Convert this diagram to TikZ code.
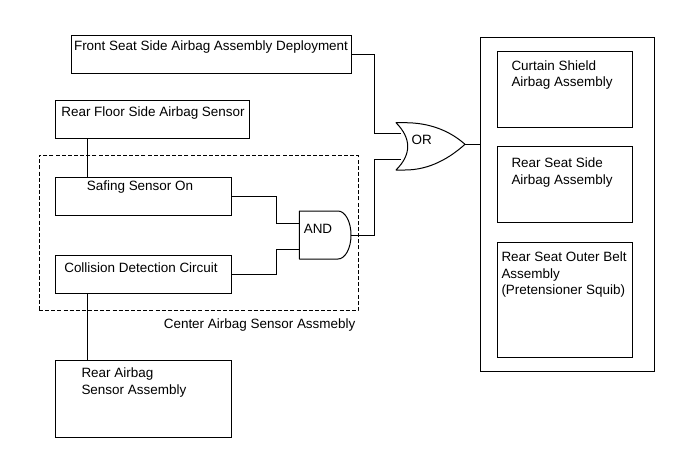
\documentclass[tikz,border=0pt]{standalone}
\usepackage{fontspec}
\setmainfont{Liberation Sans}
\usetikzlibrary{fit,calc}
\begin{document}
\begin{tikzpicture}[x=0.75pt,y=-0.75pt,line width=0.75pt,
  box/.style={draw,inner sep=0pt},
  group/.style={draw,inner sep=0pt,dash pattern=on 3pt off 1.6pt},
  txt/.style={inner sep=0pt,font=\fontsize{10.1}{12.4}\selectfont,align=left},
  wire/.style={draw,line join=miter},
  gate/.style={draw,line join=round}]
\useasboundingbox (0,0) rectangle (691,467);
% boxes
\node[box,fit={(71,35.3) (351,73.3)}] (front) {};
\node[box,fit={(55,100) (249.7,138)}] (rfs) {};
\node[group,fit={(39,155.3) (358,310.7)}] (center) {};
\node[box,fit={(55,177.3) (231,215)}] (safing) {};
\node[box,fit={(55,255.3) (231,293.3)}] (collision) {};
\node[box,fit={(55,360.7) (231,437)}] (rab) {};
\node[box,fit={(480,37.3) (654.3,371.3)}] (outputs) {};
\node[box,fit={(497,51.3) (632.7,127.3)}] (curtain) {};
\node[box,fit={(497,146.3) (632.7,222.7)}] (rss) {};
\node[box,fit={(497,242.3) (632.7,357.3)}] (belt) {};
% texts
\node[txt,anchor=north] (tfront) at (211,40) {Front Seat Side Airbag Assembly Deployment};
\node[txt,anchor=north] (trfs) at (153,106) {Rear Floor Side Airbag Sensor};
\node[txt,anchor=north] (tsaf) at (140,180.7) {Safing Sensor On};
\node[txt,anchor=north] (tcol) at (141,262) {Collision Detection Circuit};
\node[txt,anchor=north west] (tcur) at (511,60) {Curtain Shield\\Airbag Assembly};
\node[txt,anchor=north west] (trss) at (511,157.3) {Rear Seat Side\\Airbag Assembly};
\node[txt,anchor=north west] (tbelt) at (501,251.3) {Rear Seat Outer Belt\\Assembly\\(Pretensioner Squib)};
\node[txt,anchor=north west] (trab) at (81,367.3) {Rear Airbag\\Sensor Assembly};
\node[txt,anchor=base west] (tcenter) at (163.3,328) {Center Airbag Sensor Assmebly};
% gates
\draw[gate] (299.3,211) -- (338,211) .. controls (345.2,211) and (351,221.7) .. (351,235)
  .. controls (351,248.3) and (345.2,259) .. (338,259) -- (299.3,259) -- cycle;
\draw[gate] (396,122.7) -- (405,122.7) .. controls (430,122.7) and (450,131) .. (465,144.3)
  .. controls (450,157.7) and (430,170) .. (405,170) -- (396,170)
  .. controls (411.6,154.5) and (411.6,138.5) .. (396,122.7) -- cycle;
\node[txt] (tand) at (318,228.8) {AND};
\node[txt] (tor) at (421.7,140) {OR};
\coordinate (and1) at (299.3,223.3);
\coordinate (and2) at (299.3,249.3);
\coordinate (andout) at (351,235);
\coordinate (or1) at (400.5,133.3);
\coordinate (or2) at (400.5,159.3);
\coordinate (orout) at (465,144.3);
% connectors
\draw[wire] (front.east) -- ++(23,0) |- (or1);
\draw[wire] (andout) -- ++(23,0) |- (or2);
\draw[wire] (safing.east) -- ++(45,0) |- (and1);
\draw[wire] (collision.east) -- ++(45,0) |- (and2);
\draw[wire] (orout) -- (orout -| outputs.west);
\draw[wire] ($(rfs.south west)+(32.7,0)$) -- ($(safing.north west)+(32.7,0)$);
\draw[wire] ($(collision.south west)+(32.7,0)$) -- ($(rab.north west)+(32.7,0)$);
\end{tikzpicture}
\end{document}
